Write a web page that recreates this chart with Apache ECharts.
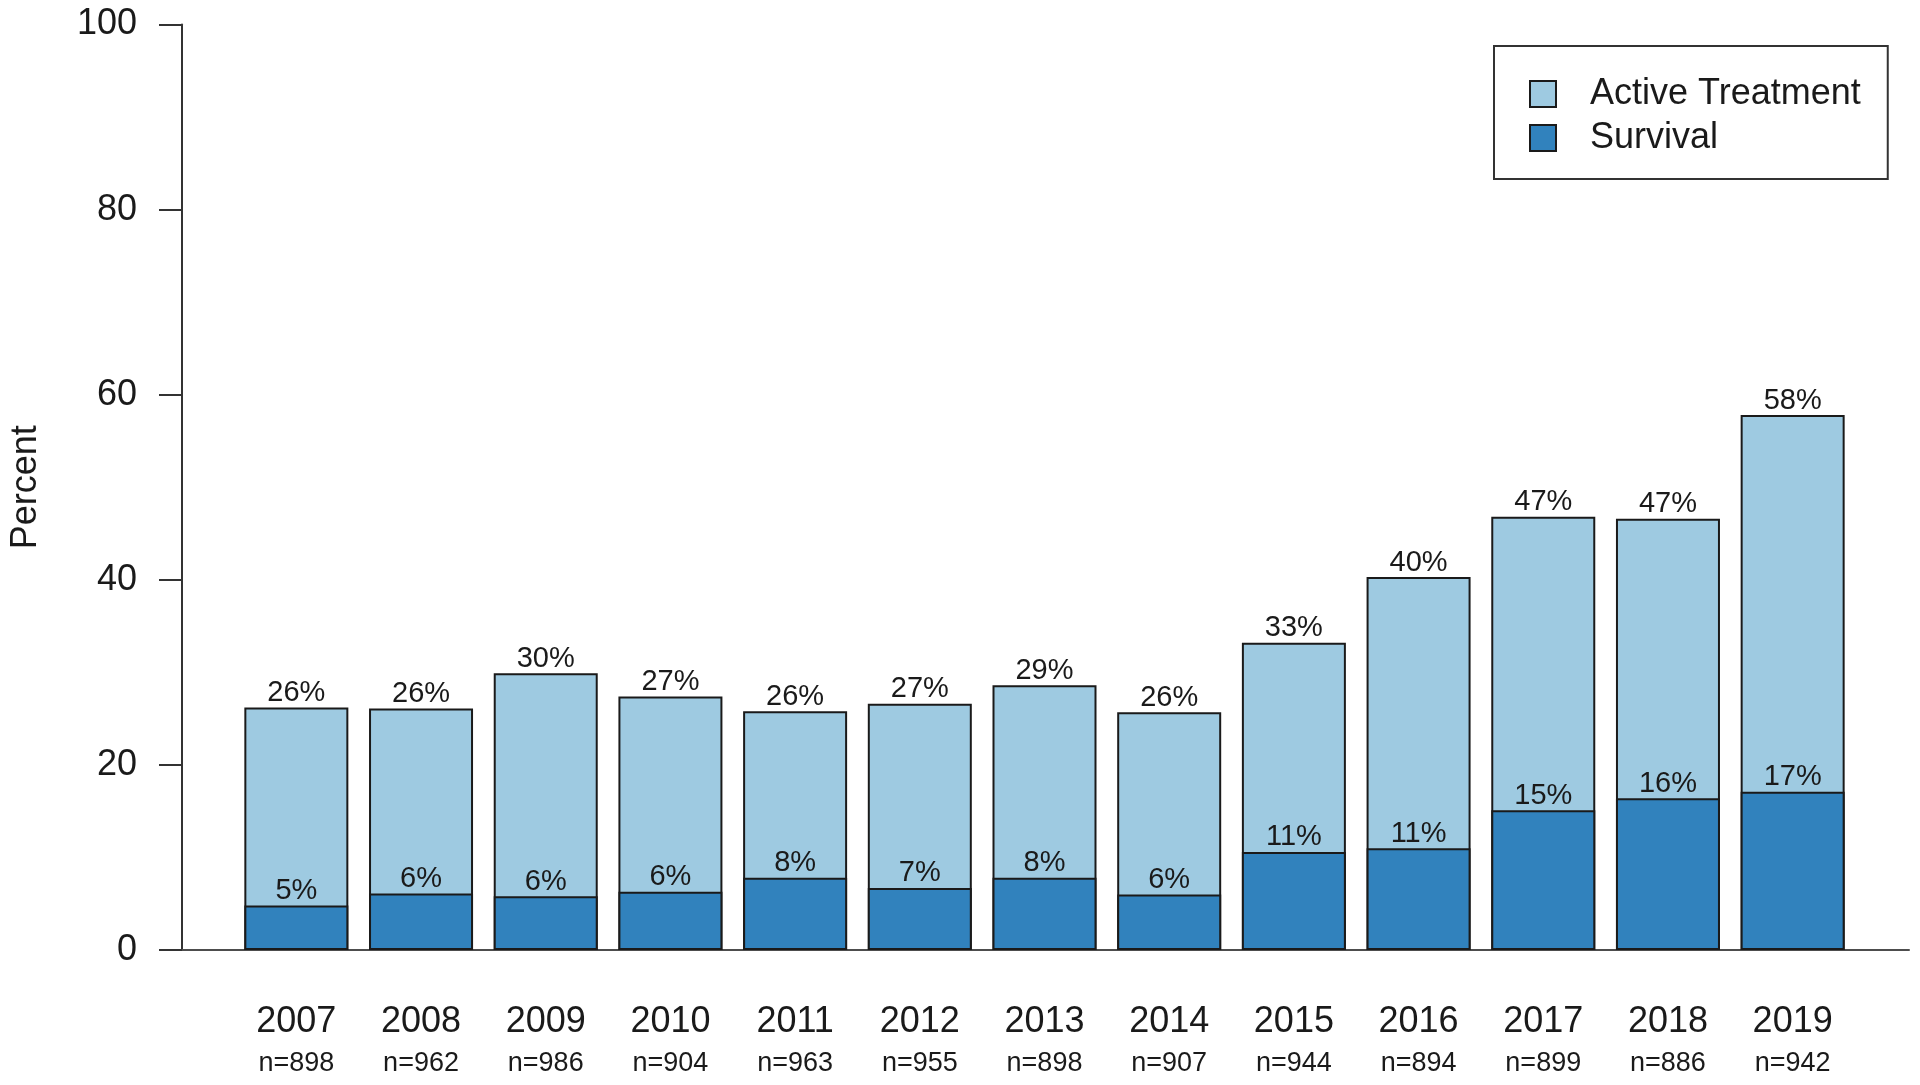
<!DOCTYPE html>
<html>
<head>
<meta charset="utf-8">
<script src="https://cdn.jsdelivr.net/npm/echarts@6/dist/echarts.min.js"></script>
<style>
html,body{margin:0;padding:0;background:#fff;}
#chart{width:1920px;height:1085px;}
</style>
</head>
<body>
<div id="chart"></div>
<script>
// ---- data ----
var years = ['2007','2008','2009','2010','2011','2012','2013','2014','2015','2016','2017','2018','2019'];
var sampleSizes = [898, 962, 986, 904, 963, 955, 898, 907, 944, 894, 899, 886, 942];
var activeTreatment = [26.2, 26.1, 29.9, 27.4, 25.8, 26.6, 28.6, 25.7, 33.2, 40.3, 46.8, 46.6, 57.8];
var survival = [4.8, 6.1, 5.8, 6.3, 7.8, 6.7, 7.8, 6.0, 10.6, 11.0, 15.1, 16.4, 17.1];
var yTicks = [0, 20, 40, 60, 80, 100];

var FONT = '"Liberation Sans", Arial, sans-serif';
var chart = echarts.init(document.getElementById('chart'), null, {renderer: 'canvas'});

var option = {
  backgroundColor: '#ffffff',
  animation: false,
  textStyle: {fontFamily: FONT},
  grid: [
    {left: 234, right: 65, top: 24.5, bottom: 135},
    {left: 180, right: 11, top: 24.5, bottom: 135}
  ],
  legend: {
    data: ['Active Treatment', 'Survival'],
    orient: 'vertical',
    left: 1494,
    top: 46,
    padding: [30, 27, 23, 35],
    itemWidth: 26,
    itemHeight: 26,
    itemGap: 8,
    borderColor: '#333',
    borderWidth: 2,
    backgroundColor: '#fff',
    icon: 'rect',
    textStyle: {fontFamily: FONT, fontSize: 36, color: '#1a1a1a', lineHeight: 26, padding: [0, 0, 0, 29]}
  },
  xAxis: [
    {
      type: 'category', gridIndex: 0, data: years,
      axisLine: {show: false}, axisTick: {show: false},
      axisLabel: {
        margin: 52, interval: 0,
        formatter: function (v, i) { return '{a|' + v + '}\n{b|n=' + sampleSizes[i] + '}'; },
        rich: {
          a: {fontFamily: FONT, fontSize: 36, lineHeight: 41, color: '#1a1a1a'},
          b: {fontFamily: FONT, fontSize: 27, lineHeight: 41, color: '#1a1a1a'}
        }
      }
    },
    {
      type: 'category', gridIndex: 1, data: years,
      axisLine: {show: true, lineStyle: {color: '#4d4d4d', width: 2}},
      axisTick: {show: false}, axisLabel: {show: false}
    }
  ],
  yAxis: [
    {
      type: 'value', gridIndex: 0, min: 0, max: 100, interval: 20,
      show: false, splitLine: {show: false}
    },
    {
      type: 'value', gridIndex: 1, min: yTicks[0], max: yTicks[yTicks.length - 1], interval: 20,
      name: 'Percent', nameLocation: 'middle', nameRotate: 90, nameGap: 138,
      nameTextStyle: {fontFamily: FONT, fontSize: 36, color: '#1a1a1a'},
      axisLine: {show: true, lineStyle: {color: '#333', width: 2}},
      axisTick: {show: true, inside: false, length: 23, lineStyle: {color: '#333', width: 2}},
      axisLabel: {margin: 45, fontFamily: FONT, fontSize: 36, color: '#1a1a1a'},
      splitLine: {show: false}
    }
  ],
  series: [
    {
      name: 'Active Treatment', type: 'bar', xAxisIndex: 0, yAxisIndex: 0,
      data: activeTreatment, barWidth: 104, barGap: '-100%',
      itemStyle: {color: '#9ECAE1', borderColor: '#1a1a1a', borderWidth: 2},
      label: {
        show: true, position: 'top', distance: 0,
        fontFamily: FONT, fontSize: 29, color: '#1a1a1a',
        formatter: function (p) { return Math.round(p.value) + '%'; }
      }
    },
    {
      name: 'Survival', type: 'bar', xAxisIndex: 0, yAxisIndex: 0,
      data: survival, barWidth: 104, barGap: '-100%',
      itemStyle: {color: '#3182BD', borderColor: '#1a1a1a', borderWidth: 2},
      label: {
        show: true, position: 'top', distance: 0,
        fontFamily: FONT, fontSize: 29, color: '#1a1a1a',
        formatter: function (p) { return Math.round(p.value) + '%'; }
      }
    }
  ]
};
chart.setOption(option);
</script>
</body>
</html>
